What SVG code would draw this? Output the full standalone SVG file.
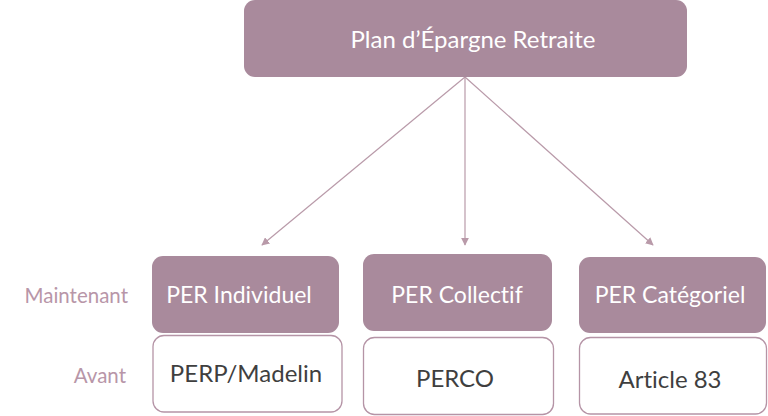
<svg xmlns="http://www.w3.org/2000/svg" width="768" height="416" viewBox="0 0 768 416">
<defs>
<style>
.top{fill:#a98a9c;}
.wb{fill:#ffffff;stroke:#b594a6;stroke-width:1.3;}
.t{font-family:Lato,"Open Sans","Liberation Sans",sans-serif;text-anchor:middle;font-variant-ligatures:none;}
.tw{fill:#ffffff;font-size:23px;}
.td{fill:#3f3f3f;font-size:24px;}
.lab{font-family:Lato,"Open Sans","Liberation Sans",sans-serif;fill:#b896a8;font-size:20.5px;text-anchor:end;}
.c{stroke:#b99aa9;stroke-width:1.2;fill:none;}
</style>
<marker id="ah" viewBox="0 0 10 10" refX="9" refY="5" markerWidth="8" markerHeight="8" markerUnits="userSpaceOnUse" orient="auto">
<path d="M0,0 L10,5 L0,10 z" fill="#b99aa9"/>
</marker>
</defs>
<rect width="768" height="416" fill="#ffffff"/>
<g id="connectors">
<line class="c" x1="465" y1="77" x2="262" y2="245" marker-end="url(#ah)"/>
<line class="c" x1="465" y1="77" x2="465" y2="245" marker-end="url(#ah)"/>
<line class="c" x1="465" y1="77" x2="653" y2="245" marker-end="url(#ah)"/>
</g>
<g id="plan">
<rect class="top" x="244" y="0" width="443" height="77" rx="11"/>
<text class="t" x="473" y="48" fill="#ffffff" font-size="24">Plan d’Épargne Retraite</text>
</g>
<g id="per-individuel">
<rect class="top" x="152" y="256" width="187" height="77" rx="11"/>
<text class="t tw" x="239" y="303">PER Individuel</text>
</g>
<g id="perp-madelin">
<rect class="wb" x="153" y="335.5" width="189" height="76.5" rx="11"/>
<text class="t td" x="246" y="382">PERP/Madelin</text>
</g>
<g id="per-collectif">
<rect class="top" x="363" y="254" width="189" height="77" rx="11"/>
<text class="t tw" x="457" y="303">PER Collectif</text>
</g>
<g id="perco">
<rect class="wb" x="363.5" y="337.5" width="190" height="77" rx="11"/>
<text class="t td" x="455" y="387">PERCO</text>
</g>
<g id="per-categoriel">
<rect class="top" x="579" y="257" width="187" height="76" rx="11"/>
<text class="t tw" x="670" y="303">PER Catégoriel</text>
</g>
<g id="article-83">
<rect class="wb" x="579.5" y="337.5" width="187" height="76.5" rx="11"/>
<text class="t td" x="670" y="388">Article 83</text>
</g>
<g id="labels">
<text class="lab" x="128" y="303">Maintenant</text>
<text class="lab" x="126" y="383">Avant</text>
</g>
</svg>
